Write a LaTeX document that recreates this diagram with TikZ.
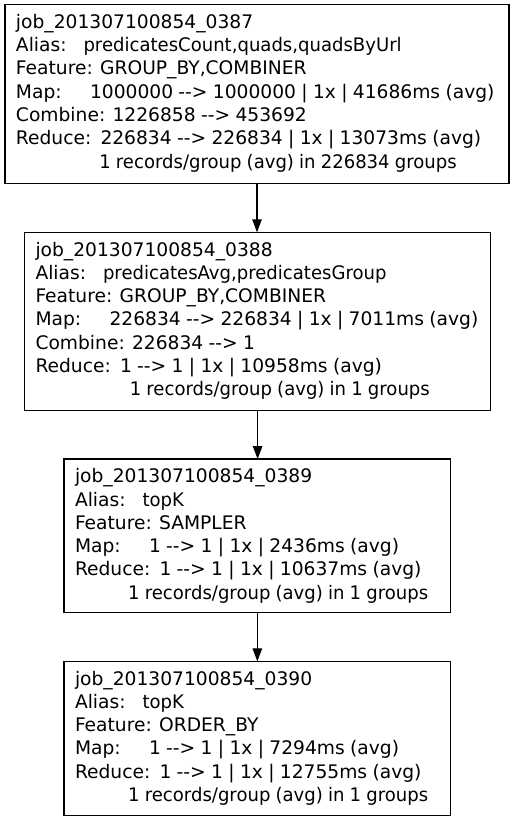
\documentclass[tikz,border=0pt]{standalone}
\usepackage{fontspec}
\newfontfamily\jobfont[WordSpace=0.9]{DejaVu Sans}
% slightly condensed face for the word-heavy parts
\newfontfamily\jobnarrow[FakeStretch=0.967, WordSpace=0.9]{DejaVu Sans}
\usetikzlibrary{arrows.meta}

% one text line of a job box: box name, line index, node name, text
\newcommand\jobline[4]{%
  \node[jobtext] (#3) at ([shift={(11,{23.8+23.25*#2})}]#1.north west) {#4};}
% fixed-width label column
\newcommand\jobcol[2]{\makebox[#1pt][l]{#2}}
\newcommand\jobn[1]{{\jobnarrow #1}}
\newcommand\arw{-{}-{}>}

\begin{document}
\begin{tikzpicture}[x=1pt,y=-1pt,
  jobbox/.style={draw=black, line width=1.1pt, rectangle, inner sep=0pt,
    outer sep=0pt, anchor=north west},
  jobtext/.style={anchor=base west, inner sep=0pt, outer sep=0pt,
    font=\jobfont\fontsize{18.67}{22}\selectfont},
  flow/.style={draw=black, line width=1.1pt,
    -{Triangle[length=13pt,width=9.5pt]}}]
\useasboundingbox (0,0) rectangle (515,821);

% job boxes
\node[jobbox, minimum width=504pt, minimum height=178.8pt] (b1) at (5,4.7) {};
\node[jobbox, minimum width=466.2pt, minimum height=178.2pt] (b2) at (24.5,232.3) {};
\node[jobbox, minimum width=386.7pt, minimum height=153.5pt] (b3) at (64,459) {};
\node[jobbox, minimum width=386.7pt, minimum height=154.2pt] (b4) at (64,661.3) {};

% job 0387
\jobline{b1}{0}{b1l0}{job\_201307100854\_0387}
\jobline{b1}{1}{b1l1}{\jobcol{67.5}{Alias:}\jobn{predicatesCount,quads,quadsByUrl}}
\jobline{b1}{2}{b1l2}{Feature: GROUP\_BY,COMBINER}
\jobline{b1}{3}{b1l3}{\jobcol{74}{Map:}1000000 \arw{} 1000000 | 1x | 41686ms (avg)}
\jobline{b1}{4}{b1l4}{Combine: 1226858 \arw{} 453692}
\jobline{b1}{5}{b1l5}{\jobcol{84.5}{Reduce:}226834 \arw{} 226834 | 1x | 13073ms (avg)}
\jobline{b1}{6}{b1l6}{\hspace*{83.3pt}\jobn{1 records/group (avg) in 226834 groups}}

% job 0388
\jobline{b2}{0}{b2l0}{job\_201307100854\_0388}
\jobline{b2}{1}{b2l1}{\jobcol{67.5}{Alias:}\jobn{predicatesAvg,predicatesGroup}}
\jobline{b2}{2}{b2l2}{Feature: GROUP\_BY,COMBINER}
\jobline{b2}{3}{b2l3}{\jobcol{74}{Map:}226834 \arw{} 226834 | 1x | 7011ms (avg)}
\jobline{b2}{4}{b2l4}{Combine: 226834 \arw{} 1}
\jobline{b2}{5}{b2l5}{\jobcol{84.5}{Reduce:}1 \arw{} 1 | 1x | 10958ms (avg)}
\jobline{b2}{6}{b2l6}{\hspace*{94.3pt}\jobn{1 records/group (avg) in 1 groups}}

% job 0389
\jobline{b3}{0}{b3l0}{job\_201307100854\_0389}
\jobline{b3}{1}{b3l1}{\jobcol{67.5}{Alias:}\jobn{topK}}
\jobline{b3}{2}{b3l2}{Feature: SAMPLER}
\jobline{b3}{3}{b3l3}{\jobcol{74}{Map:}1 \arw{} 1 | 1x | 2436ms (avg)}
\jobline{b3}{4}{b3l4}{\jobcol{84.5}{Reduce:}1 \arw{} 1 | 1x | 10637ms (avg)}
\jobline{b3}{5}{b3l5}{\hspace*{53.2pt}\jobn{1 records/group (avg) in 1 groups}}

% job 0390
\jobline{b4}{0}{b4l0}{job\_201307100854\_0390}
\jobline{b4}{1}{b4l1}{\jobcol{67.5}{Alias:}\jobn{topK}}
\jobline{b4}{2}{b4l2}{Feature: ORDER\_BY}
\jobline{b4}{3}{b4l3}{\jobcol{74}{Map:}1 \arw{} 1 | 1x | 7294ms (avg)}
\jobline{b4}{4}{b4l4}{\jobcol{84.5}{Reduce:}1 \arw{} 1 | 1x | 12755ms (avg)}
\jobline{b4}{5}{b4l5}{\hspace*{53.2pt}\jobn{1 records/group (avg) in 1 groups}}

% job dependencies
\draw[flow] (b1.south) -- (b1.south |- b2.north);
\draw[flow] (b2.south) -- (b2.south |- b3.north);
\draw[flow] (b3.south) -- (b3.south |- b4.north);
\end{tikzpicture}
\end{document}
